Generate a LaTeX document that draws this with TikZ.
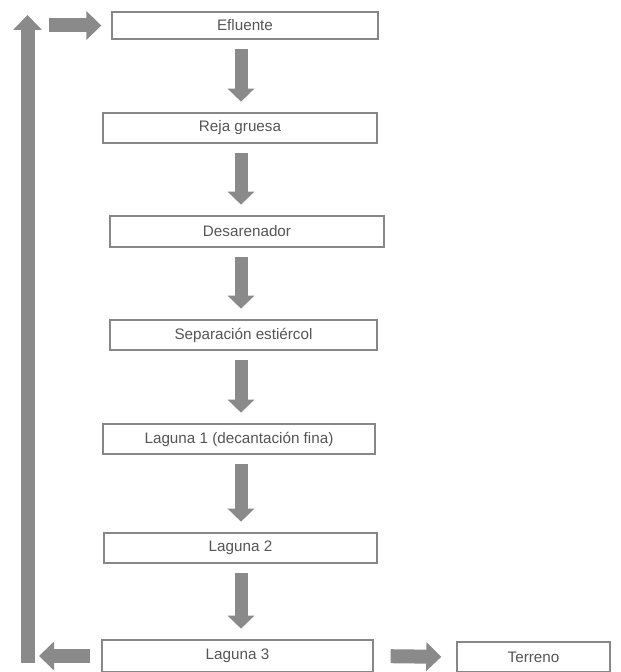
\documentclass[tikz,border=0pt]{standalone}
\usepackage{fontspec}
\setmainfont{Liberation Sans}
\usetikzlibrary{arrows.meta}
\definecolor{grisBorde}{RGB}{135,135,135}
\definecolor{grisFlecha}{RGB}{138,138,138}
\definecolor{grisTexto}{RGB}{85,85,85}

\begin{document}
\begin{tikzpicture}[
    x=0.3mm, y=-0.3mm,
    font=\fontsize{13}{15}\selectfont,
    etapa/.style={
        rectangle, draw=grisBorde, line width=0.4mm, fill=white,
        inner sep=0pt, minimum height=9mm, text=grisTexto
    },
    flecha/.style={-{Triangle[length=4.5mm, width=8.4mm]}, line width=4.2mm, draw=grisFlecha},
    bajada/.style={-{Triangle[length=3.9mm, width=7.8mm]}, line width=3.9mm, draw=grisFlecha,
        shorten <=2.7mm, shorten >=3.2mm}
]
\clip (0,0) rectangle (620,672);
\fill[white] (0,0) rectangle (620,672);

% etapas del tratamiento
\node[etapa, minimum width=79.8mm, minimum height=8.1mm] (efl)  at (245,25.5)  {Efluente};
\node[etapa, minimum width=82.2mm]                       (reja) at (240,128)   {Reja gruesa};
\node[etapa, minimum width=82.2mm, minimum height=9.3mm] (desa) at (247,231.5) {Desarenador};
\node[etapa, minimum width=80.1mm]                       (sepa) at (243.5,335) {Separación estiércol};
\node[etapa, minimum width=81.6mm]                       (lag1) at (239,439)   {Laguna 1 (decantación fina)};
\node[etapa, minimum width=81.9mm]                       (lag2) at (240.5,548) {Laguna 2};
\node[etapa, minimum width=81.3mm, minimum height=9.6mm] (lag3) at (237.5,656) {Laguna 3};
\node[etapa, minimum width=45.9mm]                       (terr) at (533.5,657) {Terreno};

% eje de las flechas verticales
\coordinate (eje) at (241,0);
\foreach \a/\b in {efl/reja, reja/desa, desa/sepa, sepa/lag1, lag1/lag2, lag2/lag3}
    \draw[bajada] (\a.south -| eje) -- (\b.north -| eje);

% recirculacion
\coordinate (retPie)  at (27.5,663);
\coordinate (retCima) at (27.5,15);
\coordinate (retIzq)  at (39,657);
\coordinate (entIni)  at (49,25.5);
\draw[flecha, shorten <=3.3mm] (lag3.west) -- (lag3.west -| retIzq);
\draw[flecha] (retPie) -- (retCima);
\draw[flecha, shorten >=3mm] (entIni) -- (efl.west);

\draw[flecha, shorten <=5.1mm, shorten >=4.5mm] (lag3.east) -- (terr.west);
\end{tikzpicture}
\end{document}
